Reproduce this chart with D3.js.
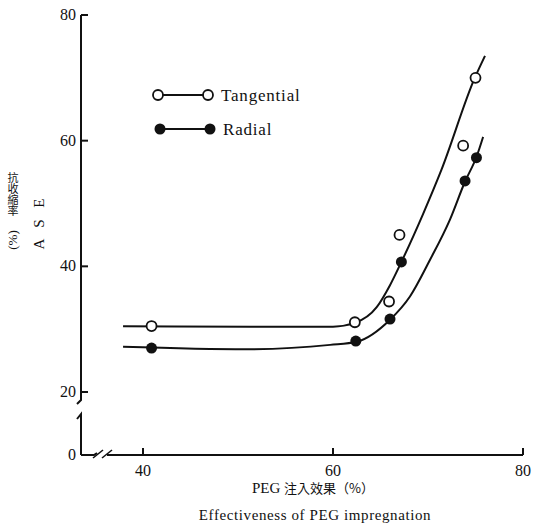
<!DOCTYPE html>
<html>
<head>
<meta charset="utf-8">
<script src="https://cdn.jsdelivr.net/npm/d3@7"></script>
<style>
  body { margin: 0; background: #fff; }
  svg { display: block; }
  text { font-family: "Liberation Serif", "DejaVu Serif", serif; fill: #111; }
  .cjk { font-family: "Noto Sans CJK TC", "Noto Sans CJK JP", sans-serif; }
  .vert { writing-mode: vertical-rl; text-orientation: upright; }
</style>
</head>
<body>
<script>
'use strict';

// measured points
const tangential_x = [40.9, 62.3, 65.9, 67.0, 73.7, 75.0];
const tangential_y = [30.5, 31.1, 34.4, 45.0, 59.2, 70.0];
const radial_x = [40.9, 62.4, 66.0, 67.2, 73.9, 75.1];
const radial_y = [27.0, 28.1, 31.6, 40.7, 53.6, 57.3];

// fitted curves as drawn in the figure
const tangential_curve_x = [37.9, 51.3, 60.0, 62.3, 64.6, 66.0, 67.2, 69.5, 71.4, 74.9, 76.0];
const tangential_curve_y = [30.45, 30.4, 30.4, 31.0, 33.5, 37.0, 40.7, 48.4, 55.3, 69.9, 73.5];
const radial_curve_x = [37.9, 50.9, 59.7, 62.5, 66.0, 68.1, 70.2, 72.3, 73.9, 75.1, 75.8];
const radial_curve_y = [27.2, 26.8, 27.5, 28.0, 31.5, 35.2, 41.0, 47.4, 53.5, 57.4, 60.6];

const x_ticks = [40, 60, 80];
const y_ticks = [20, 40, 60, 80];
const series_names = ['Tangential', 'Radial'];

const width = 533, height = 526;
const axis_left = 81, axis_bottom = 455;

const x = d3.scaleLinear().domain([40, 80]).range([143, 523]);
const y = d3.scaleLinear().domain([20, 80]).range([392, 15]);

const svg = d3.select('body').append('svg')
    .attr('width', width)
    .attr('height', height);

const ink = '#111';

// y axis (broken between 0 and 20)
svg.append('path')
    .attr('d', `M${axis_left},${y(80)}V${y(20) + 8}l-4,4`)
    .attr('fill', 'none').attr('stroke', ink).attr('stroke-width', 2);
svg.append('path')
    .attr('d', `M${axis_left - 4},${y(20) + 27}l4,-5V${axis_bottom}`)
    .attr('fill', 'none').attr('stroke', ink).attr('stroke-width', 2);

// x axis (broken near the origin)
svg.append('path')
    .attr('d', `M${axis_left},${axis_bottom}H${axis_left + 13}l3,-2`)
    .attr('fill', 'none').attr('stroke', ink).attr('stroke-width', 2);
svg.append('path')
    .attr('d', `M${axis_left + 12},${axis_bottom + 3}l10,-8`)
    .attr('fill', 'none').attr('stroke', ink).attr('stroke-width', 1.6);
svg.append('path')
    .attr('d', `M${axis_left + 21},${axis_bottom + 3}l10,-8`)
    .attr('fill', 'none').attr('stroke', ink).attr('stroke-width', 1.6);
svg.append('path')
    .attr('d', `M${axis_left + 26},${axis_bottom}H${x(80)}`)
    .attr('fill', 'none').attr('stroke', ink).attr('stroke-width', 2);

// ticks
svg.selectAll('.ytick').data(y_ticks).enter().append('line')
    .attr('x1', axis_left).attr('x2', axis_left + 7)
    .attr('y1', d => y(d)).attr('y2', d => y(d))
    .attr('stroke', ink).attr('stroke-width', 2);
svg.selectAll('.xtick').data(x_ticks).enter().append('line')
    .attr('x1', d => x(d)).attr('x2', d => x(d))
    .attr('y1', axis_bottom).attr('y2', axis_bottom - 7)
    .attr('stroke', ink).attr('stroke-width', 2);

svg.selectAll('.ylabel').data(y_ticks).enter().append('text')
    .attr('x', axis_left - 5).attr('y', d => y(d) + 5)
    .attr('text-anchor', 'end').attr('font-size', 16)
    .text(d => d);
svg.append('text')
    .attr('x', axis_left - 5).attr('y', axis_bottom + 5)
    .attr('text-anchor', 'end').attr('font-size', 16)
    .text('0');
svg.selectAll('.xlabel').data(x_ticks).enter().append('text')
    .attr('x', d => x(d)).attr('y', axis_bottom + 21)
    .attr('text-anchor', 'middle').attr('font-size', 16)
    .text(d => d);

// axis titles
const xt = svg.append('text')
    .attr('x', 313).attr('y', 493)
    .attr('text-anchor', 'middle').attr('font-size', 15);
xt.append('tspan').text('PEG ');
xt.append('tspan').attr('class', 'cjk').attr('font-size', 13).text('注入效果（%）');
svg.append('text')
    .attr('x', 315).attr('y', 520)
    .attr('text-anchor', 'middle').attr('font-size', 15)
    .attr('letter-spacing', 0.6)
    .text('Effectiveness of PEG impregnation');

svg.append('text')
    .attr('class', 'cjk vert')
    .attr('x', 13).attr('y', 172)
    .attr('font-size', 11)
    .attr('fill', '#444')
    .text('抗收縮率');
svg.append('text')
    .attr('transform', 'translate(17,240) rotate(-90)')
    .attr('text-anchor', 'middle').attr('font-size', 13)
    .text('(%)');
svg.append('text')
    .attr('transform', 'translate(44,222) rotate(-90)')
    .attr('text-anchor', 'middle').attr('font-size', 15)
    .attr('letter-spacing', 4)
    .text('A S E');

// curves
const line = d3.line()
    .x(d => x(d[0]))
    .y(d => y(d[1]))
    .curve(d3.curveMonotoneX);

svg.append('path')
    .datum(d3.zip(tangential_curve_x, tangential_curve_y))
    .attr('d', line)
    .attr('fill', 'none').attr('stroke', ink).attr('stroke-width', 2);
svg.append('path')
    .datum(d3.zip(radial_curve_x, radial_curve_y))
    .attr('d', line)
    .attr('fill', 'none').attr('stroke', ink).attr('stroke-width', 2);

// points
svg.selectAll('.tan').data(d3.zip(tangential_x, tangential_y)).enter().append('circle')
    .attr('cx', d => x(d[0])).attr('cy', d => y(d[1]))
    .attr('r', 5)
    .attr('fill', '#fff').attr('stroke', ink).attr('stroke-width', 1.8);
svg.selectAll('.rad').data(d3.zip(radial_x, radial_y)).enter().append('circle')
    .attr('cx', d => x(d[0])).attr('cy', d => y(d[1]))
    .attr('r', 5.5)
    .attr('fill', ink);

// legend
const legend = svg.append('g');
series_names.forEach((name, i) => {
    const ly = 95 + i * 34, lx = 158 + i * 2;
    legend.append('line')
        .attr('x1', lx).attr('x2', lx + 50)
        .attr('y1', ly).attr('y2', ly)
        .attr('stroke', ink).attr('stroke-width', 2);
    [lx, lx + 50].forEach(cx => {
        legend.append('circle')
            .attr('cx', cx).attr('cy', ly)
            .attr('r', i === 0 ? 5 : 5.5)
            .attr('fill', i === 0 ? '#fff' : ink)
            .attr('stroke', ink).attr('stroke-width', i === 0 ? 1.8 : 0);
    });
    legend.append('text')
        .attr('x', lx + 63).attr('y', ly + 6)
        .attr('font-size', 17)
        .attr('letter-spacing', 0.8)
        .text(name);
});
</script>
</body>
</html>
